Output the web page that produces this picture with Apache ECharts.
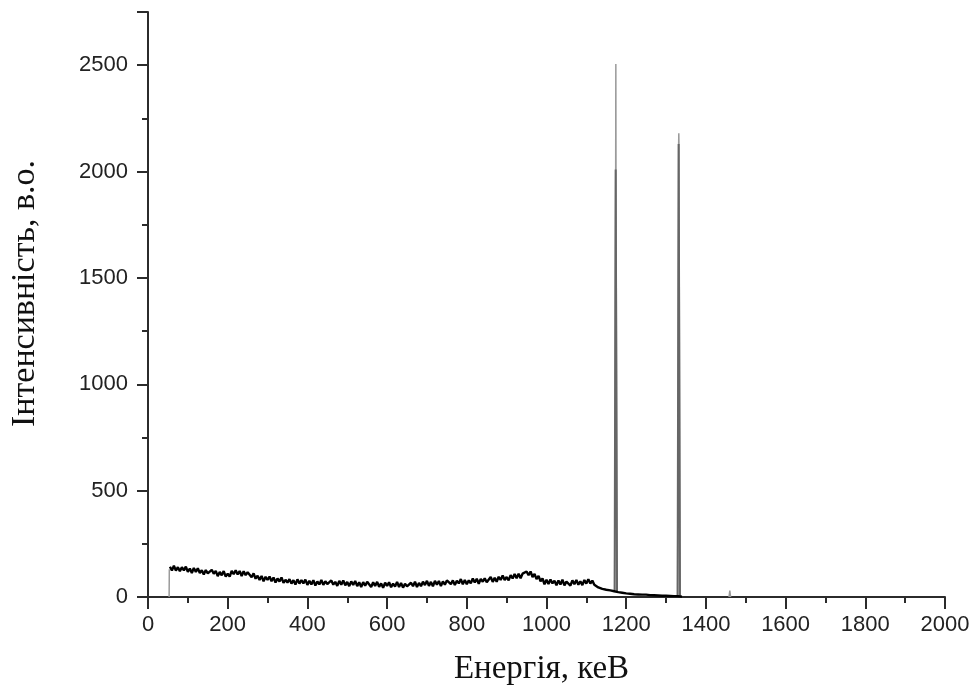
<!DOCTYPE html>
<html>
<head>
<meta charset="utf-8">
<script src="https://cdn.jsdelivr.net/npm/echarts@6/dist/echarts.min.js"></script>
<style>
html,body{margin:0;padding:0;background:#fff;}
#chart{width:978px;height:693px;}
</style>
</head>
<body>
<div id="chart"></div>
<script>
// Spectrum: channel grid starting at 55 keV, 5 keV step
var spectrumStart = 55;
var spectrumStep = 5;
var spectrumValues = [
  142,125,147,124,140,121,140,125,143,118,134,113,136,118,135,113,126,106,127,111,
  108,128,109,123,98,118,102,122,96,110,96,123,107,126,106,122,99,121,103,116,
  113,93,111,86,100,80,99,74,95,80,96,74,92,68,87,73,92,66,81,68,
  84,63,79,59,83,63,80,64,82,57,76,59,79,54,73,59,80,57,74,61,
  56,78,58,71,52,76,58,78,55,71,51,73,57,75,51,69,47,70,53,72,
  67,47,69,52,71,48,64,43,67,52,69,46,63,49,71,47,66,44,62,50,
  46,67,51,72,47,66,51,72,56,76,52,71,50,76,58,75,51,73,58,78,
  79,60,78,56,76,64,84,60,80,60,78,64,87,68,86,62,85,72,88,69,
  71,94,71,90,72,95,80,101,80,94,78,103,87,108,88,109,88,110,101,120,
  102,120,94,108,84,99,74,87,60,81,61,82,64,76,55,78,59,81,55,72,
  75,54,78,60,80,58,74,56,80,63,84,63,77,58,66,45,52,38,46,34,
  40,31,38,27,31,23,27,20,24,17,22,15,20,13,18,12,17,11,15,11,
  14,9,13,8,12,7,11,6,10,6,9,5,9,4,8,4,6,2
];
// Thin (light) lines: onset edge, photopeak tips, 1460 keV line ('-' breaks the line)
var thinEnergies = [53, 53.5, '-', 1171, 1173.6, 1174, 1174.4, 1177, '-', 1329, 1331.6, 1332, 1332.4, 1335, '-', 1458, 1460, 1462];
var thinValues   = [0, 130, '-', 31, 2010, 2505, 2010, 28, '-', 6, 2130, 2180, 2130, 4, '-', 0, 30, 0];
// Dark bases of the photopeaks
var peakEnergies = [1171, 1173.6, 1174.4, 1177, '-', 1329, 1331.6, 1332.4, 1335];
var peakValues   = [31, 2010, 2010, 28, '-', 6, 2130, 2130, 4];
// Axis ticks
var xTicks = [0, 200, 400, 600, 800, 1000, 1200, 1400, 1600, 1800, 2000];
var yTicks = [0, 500, 1000, 1500, 2000, 2500];

var spectrumData = spectrumValues.map(function (v, i) { return [spectrumStart + i * spectrumStep, v]; });
var thinData = thinEnergies.map(function (e, i) { return e === '-' ? ['-', '-'] : [e, thinValues[i]]; });
var peakData = peakEnergies.map(function (e, i) { return e === '-' ? ['-', '-'] : [e, peakValues[i]]; });

var axisColor = '#2b2b2b';
var chart = echarts.init(document.getElementById('chart'), null, {renderer: 'canvas'});
chart.setOption({
  animation: false,
  backgroundColor: '#ffffff',
  grid: {left: 148, right: 33, top: 12, bottom: 96, containLabel: false},
  xAxis: {
    type: 'value', min: xTicks[0], max: xTicks[xTicks.length - 1], interval: 200,
    name: 'Енергія, кеВ', nameLocation: 'middle', nameGap: 56,
    nameTextStyle: {fontFamily: 'Liberation Serif', fontSize: 33, color: '#111', padding: [0, 10, 0, 0]},
    axisLine: {show: true, onZero: false, lineStyle: {color: axisColor, width: 2}},
    axisTick: {show: true, inside: false, length: 12, lineStyle: {color: axisColor, width: 2}},
    minorTick: {show: true, splitNumber: 2, length: 6, lineStyle: {color: axisColor, width: 2}},
    axisLabel: {margin: 17, fontFamily: 'Liberation Sans', fontSize: 22, color: '#222',
      formatter: function (v) { return xTicks.indexOf(v) >= 0 ? String(v) : ''; }},
    splitLine: {show: false}
  },
  yAxis: {
    type: 'value', min: 0, max: 2750, interval: 500,
    name: 'Інтенсивність, в.о.', nameLocation: 'middle', nameGap: 106, nameRotate: 90,
    nameTextStyle: {fontFamily: 'Liberation Serif', fontSize: 34, color: '#111', padding: [0, 0, 0, 22]},
    axisLine: {show: true, lineStyle: {color: axisColor, width: 2}},
    axisTick: {show: true, inside: false, length: 11, lineStyle: {color: axisColor, width: 2}},
    minorTick: {show: true, splitNumber: 2, length: 6, lineStyle: {color: axisColor, width: 2}},
    axisLabel: {margin: 20, fontFamily: 'Liberation Sans', fontSize: 22, color: '#222',
      formatter: function (v) { return yTicks.indexOf(v) >= 0 ? String(v) : ''; }},
    splitLine: {show: false}
  },
  series: [
    {type: 'line', data: thinData, showSymbol: false, symbol: 'none', connectNulls: false,
     lineStyle: {color: '#9a9a9a', width: 1.5}, z: 2},
    {type: 'line', data: peakData, showSymbol: false, symbol: 'none', connectNulls: false,
     lineStyle: {color: '#666666', width: 2}, z: 3},
    {type: 'line', data: spectrumData, showSymbol: false, symbol: 'none',
     lineStyle: {color: '#000000', width: 2.4}, z: 4}
  ]
});
</script>
</body>
</html>
